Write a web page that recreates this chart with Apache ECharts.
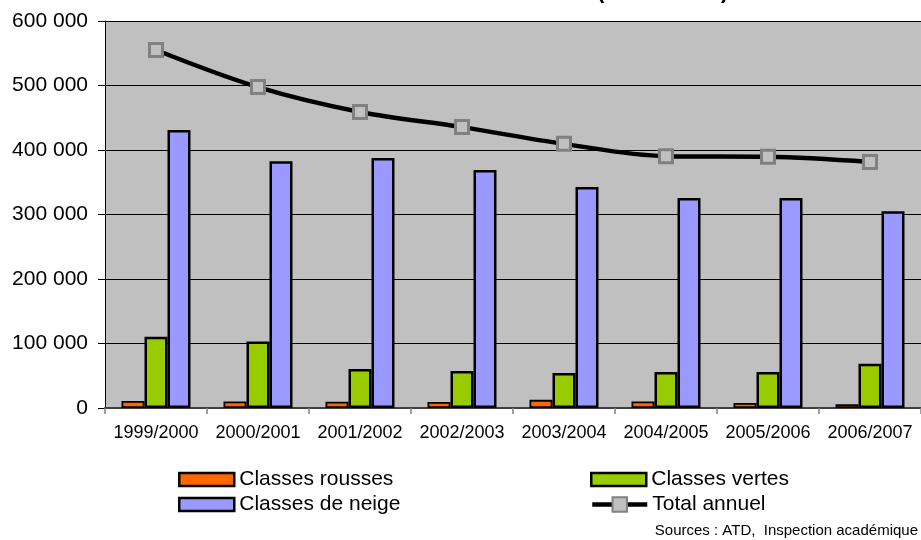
<!DOCTYPE html>
<html>
<head>
<meta charset="utf-8">
<script src="https://cdn.jsdelivr.net/npm/echarts@6/dist/echarts.min.js"></script>
<style>
html,body{margin:0;padding:0;background:#fff;}
#c{width:921px;height:540px;}
</style>
</head>
<body>
<div id="c"></div>
<script>
const categories = ['1999/2000','2000/2001','2001/2002','2002/2003','2003/2004','2004/2005','2005/2006','2006/2007'];
const rousses = [10800, 10000, 9700, 9300, 12600, 10000, 7800, 6000];
const vertes = [110500, 103000, 60500, 57400, 54300, 55800, 56000, 68700];
const neige = [431000, 382500, 387600, 369000, 342500, 325500, 325500, 305000];
const total = [555000, 497500, 459000, 435500, 409500, 390500, 389500, 381500];
const yTicks = { min: 0, max: 600000, interval: 100000 };

const FONT = 'Liberation Sans';
const chart = echarts.init(document.getElementById('c'), null, {renderer:'canvas'});

function fmt(v){ return String(v).replace(/\B(?=(\d{3})+(?!\d))/g, ' '); }

const legText = { fontFamily:FONT, fontSize:21, color:'#000' };
const rectItem = (name) => ({ name, icon:'rect', itemStyle:{ borderColor:'#000', borderWidth:2.5 } });

chart.setOption({
  animation:false,
  backgroundColor:'#fff',
  grid:{ left:105, right:-3, top:21, bottom:132, show:true, backgroundColor:'#c0c0c0', borderWidth:0 },
  graphic:[
    { type:'text', left:597, top:-19, style:{ text:'(', font:'bold 22px "Liberation Sans"', fill:'#000' } },
    { type:'text', left:721, top:-19, style:{ text:')', font:'bold 22px "Liberation Sans"', fill:'#000' } },
    { type:'text', right:3, top:523, style:{ text:'Sources : ATD,  Inspection académique', font:'15px "Liberation Sans"', fill:'#000' } }
  ],
  legend:[
    { orient:'vertical', left:173, top:464, itemWidth:55, itemHeight:13, itemGap:4,
      textStyle:legText,
      data:[ rectItem('Classes rousses'), rectItem('Classes de neige') ] },
    { orient:'vertical', left:585, top:464, itemWidth:55, itemHeight:13, itemGap:4,
      textStyle:legText,
      data:[ rectItem('Classes vertes') ] },
    { orient:'vertical', left:585, top:489, itemWidth:55, itemHeight:18, itemGap:4,
      textStyle:legText,
      data:[ { name:'Total annuel', lineStyle:{ color:'#000', width:4.5 } } ] }
  ],
  xAxis:{
    type:'category', data:categories,
    axisLine:{ lineStyle:{ color:'#404040', width:2 } },
    axisTick:{ show:true, alignWithLabel:false, length:6, lineStyle:{ color:'#808080', width:1.5 } },
    axisLabel:{ fontFamily:FONT, fontSize:18, color:'#000', margin:16, interval:0 },
    splitLine:{ show:false }
  },
  yAxis:{
    type:'value', min:yTicks.min, max:yTicks.max, interval:yTicks.interval,
    axisLine:{ show:true, lineStyle:{ color:'#000', width:1 } },
    axisTick:{ show:true, length:7, lineStyle:{ color:'#000', width:1 } },
    axisLabel:{ fontFamily:FONT, fontSize:21, color:'#000', margin:17, formatter:fmt },
    splitLine:{ show:true, lineStyle:{ color:'#000', width:1 } }
  },
  series:[
    { name:'Classes rousses', type:'bar', data:rousses, barWidth:23, barGap:'0%',
      itemStyle:{ color:'#ff6600', borderColor:'#000', borderWidth:1.8 } },
    { name:'Classes vertes', type:'bar', data:vertes, barWidth:23, barGap:'0%',
      itemStyle:{ color:'#99cc00', borderColor:'#000', borderWidth:2.5 } },
    { name:'Classes de neige', type:'bar', data:neige, barWidth:23, barGap:'0%',
      itemStyle:{ color:'#9999ff', borderColor:'#000', borderWidth:2.5 } },
    { name:'Total annuel', type:'line', data:total, smooth:0.35,
      symbol:'rect', symbolSize:13, showSymbol:true,
      lineStyle:{ color:'#000', width:4.5 },
      itemStyle:{ color:'#c0c0c0', borderColor:'#808080', borderWidth:3 },
      z:5 }
  ]
});
</script>
</body>
</html>
